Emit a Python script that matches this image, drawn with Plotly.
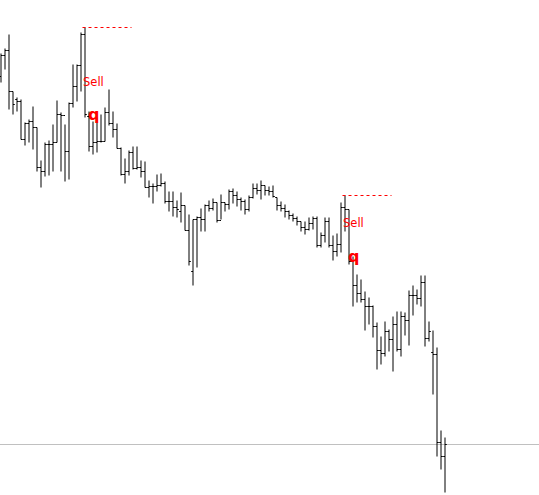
import plotly.graph_objects as go

bar_index = list(range(112))

high = [1.2446, 1.2451, 1.2465, 1.2408, 1.2402, 1.2400, 1.2377, 1.2380, 1.2393, 1.2372,
        1.2339, 1.2357, 1.2359, 1.2375, 1.2399, 1.2387, 1.2375, 1.2397, 1.2435, 1.2435,
        1.2467, 1.2472, 1.2388, 1.2378, 1.2382, 1.2385, 1.2392, 1.2410, 1.2388, 1.2376,
        1.2352, 1.2341, 1.2349, 1.2353, 1.2353, 1.2339, 1.2338, 1.2319, 1.2316, 1.2325,
        1.2326, 1.2318, 1.2308, 1.2308, 1.2299, 1.2307, 1.2294, 1.2285, 1.2280, 1.2283,
        1.2291, 1.2295, 1.2299, 1.2301, 1.2297, 1.2305, 1.2297, 1.2310, 1.2311, 1.2308,
        1.2302, 1.2300, 1.2304, 1.2316, 1.2316, 1.2319, 1.2314, 1.2313, 1.2314, 1.2302,
        1.2298, 1.2295, 1.2289, 1.2286, 1.2283, 1.2278, 1.2278, 1.2282, 1.2283, 1.2283,
        1.2267, 1.2282, 1.2282, 1.2264, 1.2266, 1.2297, 1.2304, 1.2290, 1.2243, 1.2225,
        1.2220, 1.2208, 1.2202, 1.2194, 1.2177, 1.2163, 1.2178, 1.2170, 1.2183, 1.2188,
        1.2188, 1.2187, 1.2209, 1.2214, 1.2210, 1.2224, 1.2224, 1.2178, 1.2169, 1.2152,
        1.2069, 1.2062]
low = [1.2417, 1.2430, 1.2390, 1.2385, 1.2388, 1.2360, 1.2354, 1.2357, 1.2350, 1.2328,
       1.2312, 1.2323, 1.2324, 1.2328, 1.2357, 1.2328, 1.2318, 1.2320, 1.2392, 1.2398,
       1.2408, 1.2382, 1.2348, 1.2345, 1.2347, 1.2357, 1.2358, 1.2374, 1.2362, 1.2351,
       1.2324, 1.2316, 1.2324, 1.2330, 1.2330, 1.2322, 1.2312, 1.2302, 1.2296, 1.2308,
       1.2313, 1.2296, 1.2288, 1.2283, 1.2282, 1.2277, 1.2269, 1.2234, 1.2214, 1.2232,
       1.2268, 1.2268, 1.2288, 1.2289, 1.2277, 1.2280, 1.2288, 1.2290, 1.2296, 1.2293,
       1.2289, 1.2285, 1.2288, 1.2301, 1.2305, 1.2300, 1.2304, 1.2304, 1.2302, 1.2289,
       1.2288, 1.2282, 1.2280, 1.2278, 1.2274, 1.2268, 1.2265, 1.2269, 1.2270, 1.2252,
       1.2252, 1.2257, 1.2252, 1.2239, 1.2243, 1.2247, 1.2268, 1.2235, 1.2193, 1.2197,
       1.2197, 1.2169, 1.2175, 1.2162, 1.2130, 1.2135, 1.2143, 1.2148, 1.2128, 1.2148,
       1.2143, 1.2164, 1.2154, 1.2184, 1.2195, 1.2193, 1.2153, 1.2158, 1.2105, 1.2043,
       1.2030, 1.2007]
open_ = [1.2423, 1.2444, 1.2449, 1.2408, 1.2400, 1.2398, 1.2360, 1.2376, 1.2378, 1.2372,
         1.2332, 1.2328, 1.2355, 1.2355, 1.2357, 1.2385, 1.2384, 1.2348, 1.2396, 1.2413,
         1.2434, 1.2465, 1.2383, 1.2353, 1.2357, 1.2358, 1.2358, 1.2387, 1.2376, 1.2370,
         1.2351, 1.2325, 1.2328, 1.2347, 1.2331, 1.2332, 1.2328, 1.2312, 1.2313, 1.2313,
         1.2314, 1.2316, 1.2298, 1.2298, 1.2292, 1.2288, 1.2294, 1.2269, 1.2228, 1.2280,
         1.2282, 1.2280, 1.2294, 1.2291, 1.2297, 1.2279, 1.2297, 1.2295, 1.2308, 1.2304,
         1.2300, 1.2298, 1.2290, 1.2302, 1.2311, 1.2309, 1.2314, 1.2309, 1.2308, 1.2302,
         1.2294, 1.2291, 1.2288, 1.2284, 1.2281, 1.2278, 1.2272, 1.2270, 1.2276, 1.2281,
         1.2254, 1.2264, 1.2278, 1.2254, 1.2248, 1.2255, 1.2292, 1.2290, 1.2238, 1.2214,
         1.2206, 1.2200, 1.2193, 1.2193, 1.2173, 1.2149, 1.2146, 1.2168, 1.2160, 1.2175,
         1.2150, 1.2183, 1.2179, 1.2204, 1.2204, 1.2201, 1.2217, 1.2161, 1.2147, 1.2145,
         1.2057, 1.2043]
close = [1.2444, 1.2449, 1.2408, 1.2395, 1.2398, 1.2360, 1.2376, 1.2378, 1.2372, 1.2332,
         1.2328, 1.2355, 1.2355, 1.2357, 1.2385, 1.2384, 1.2348, 1.2396, 1.2413, 1.2434,
         1.2465, 1.2385, 1.2353, 1.2357, 1.2358, 1.2358, 1.2387, 1.2376, 1.2370, 1.2351,
         1.2325, 1.2328, 1.2347, 1.2331, 1.2332, 1.2328, 1.2312, 1.2313, 1.2313, 1.2314,
         1.2316, 1.2298, 1.2298, 1.2292, 1.2290, 1.2294, 1.2269, 1.2238, 1.2280, 1.2282,
         1.2280, 1.2294, 1.2291, 1.2297, 1.2279, 1.2297, 1.2295, 1.2308, 1.2304, 1.2300,
         1.2298, 1.2290, 1.2302, 1.2311, 1.2309, 1.2314, 1.2309, 1.2308, 1.2303, 1.2294,
         1.2291, 1.2288, 1.2284, 1.2281, 1.2278, 1.2272, 1.2270, 1.2276, 1.2281, 1.2254,
         1.2264, 1.2278, 1.2254, 1.2248, 1.2255, 1.2292, 1.2290, 1.2238, 1.2214, 1.2206,
         1.2200, 1.2193, 1.2193, 1.2173, 1.2149, 1.2146, 1.2168, 1.2160, 1.2175, 1.2150,
         1.2183, 1.2179, 1.2204, 1.2204, 1.2201, 1.2217, 1.2161, 1.2168, 1.2145, 1.2057,
         1.2043, 1.2055]

# Sell signals: bar of the swing high, level of the dashed line, label/arrow bars and prices
signal_bar = [21, 86]
signal_level = [1.2472, 1.2304]
signal_line_len = 12.25
label_bar = [23, 88]
label_price = [1.2418, 1.2277]
arrow_price = [1.2385, 1.2243]
label_text = "Sell"
arrow_char = "q"

current_price = close[-1]

fig = go.Figure()
fig.add_trace(go.Ohlc(
    x=bar_index, open=open_, high=high, low=low, close=close,
    increasing=dict(line=dict(color="black", width=1)),
    decreasing=dict(line=dict(color="black", width=1)),
    tickwidth=0.45, hoverinfo="skip", showlegend=False,
))

fig.add_hline(y=current_price, line=dict(color="#c0c0c0", width=1), layer="below")

for sb, lvl in zip(signal_bar, signal_level):
    fig.add_shape(type="line", x0=sb - 0.625, x1=sb - 0.625 + signal_line_len, y0=lvl, y1=lvl,
                  line=dict(color="#ff0000", width=1, dash="3px,3px"), layer="above")

for lb, lp, ap in zip(label_bar, label_price, arrow_price):
    fig.add_annotation(x=lb, y=lp, text=label_text, showarrow=False,
                       font=dict(family="DejaVu Sans", size=11.5, color="#ff0000"),
                       xanchor="center", yanchor="middle")
    fig.add_annotation(x=lb, y=ap, text=arrow_char, showarrow=False,
                       font=dict(family="DejaVu Sans", size=16, color="#ff0000", weight="bold"),
                       xanchor="center", yanchor="middle")

fig.update_layout(
    width=539, height=495, autosize=False,
    margin=dict(l=0, r=0, t=0, b=0, pad=0),
    paper_bgcolor="white", plot_bgcolor="white",
    xaxis=dict(range=[-0.25, 134.5], visible=False, showgrid=False,
               rangeslider=dict(visible=False), fixedrange=True),
    yaxis=dict(range=[1.20045, 1.24995], visible=False, showgrid=False, fixedrange=True),
    showlegend=False,
)

fig.write_html("out.html", config={"displayModeBar": False},
               post_script="document.body.style.margin='0';document.body.style.overflow='hidden';")
